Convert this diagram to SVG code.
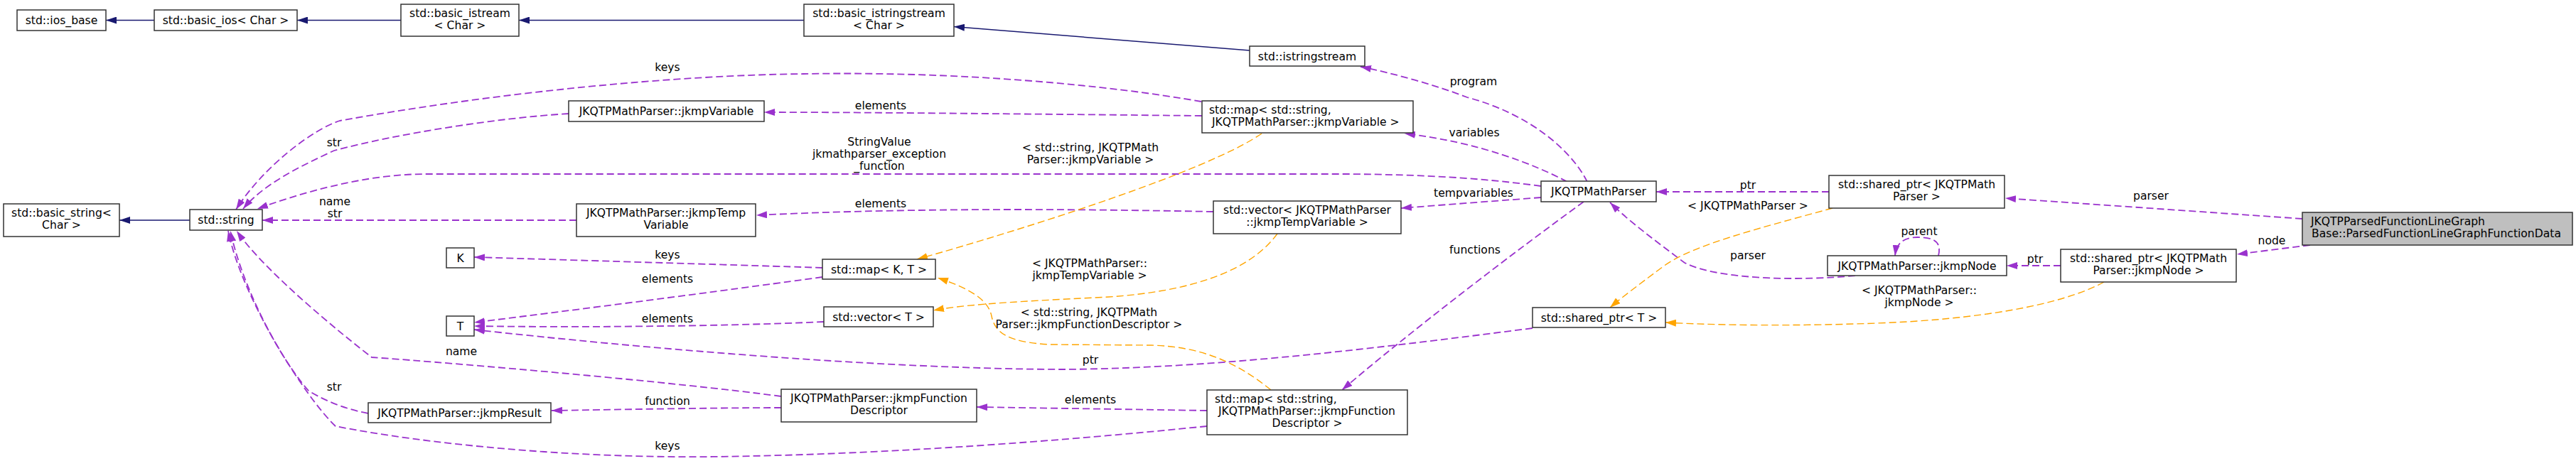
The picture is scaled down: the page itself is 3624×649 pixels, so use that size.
<svg xmlns="http://www.w3.org/2000/svg" width="3624" height="649" viewBox="0 0 3624 649">
<style>
text{font-family:"DejaVu Sans","Liberation Sans",sans-serif;font-size:15.6px;fill:#000}
.c{text-anchor:middle}
.s{text-anchor:start}
.box{fill:#fff;stroke:#333;stroke-width:1.5}
.main{fill:#bfbfbf;stroke:#333;stroke-width:1.5}
.inh{fill:none;stroke:#191970;stroke-width:1.5;marker-end:url(#mb)}
.use{fill:none;stroke:#9a32cd;stroke-width:1.8;stroke-dasharray:10,5;marker-end:url(#mp)}
.tpl{fill:none;stroke:#ffa500;stroke-width:1.4;stroke-dasharray:10,5;marker-end:url(#mo)}
</style>
<defs>
<marker id="mb" markerUnits="userSpaceOnUse" viewBox="0 0 15 10" refX="15" refY="5" markerWidth="15" markerHeight="10" orient="auto"><path d="M0,0L15,5L0,10z" fill="#191970"/></marker>
<marker id="mp" markerUnits="userSpaceOnUse" viewBox="0 0 15 10" refX="15" refY="5" markerWidth="15" markerHeight="10" orient="auto"><path d="M0,0L15,5L0,10z" fill="#9a32cd"/></marker>
<marker id="mo" markerUnits="userSpaceOnUse" viewBox="0 0 15 10" refX="15" refY="5" markerWidth="15" markerHeight="10" orient="auto"><path d="M0,0L15,5L0,10z" fill="#ffa500"/></marker>
</defs>
<rect width="3624" height="649" fill="#fff"/>
<g id="edges">
<path class="inh" d="M217,28.5L149,28.5"/>
<path class="inh" d="M564,28.5L418,28.5"/>
<path class="inh" d="M1131,28.5L730,28.5"/>
<path class="inh" d="M1758,71L1342,37.5"/>
<path class="inh" d="M267,310L168,310"/>

<path class="use" d="M1690,143C1560,120 1350,100 1130,104C950,106 700,130 478,170C440,182 370,235 332,295"/>
<text class="c" x="939" y="99.5">keys</text>
<path class="use" d="M800,160C700,166 560,188 470,212C420,235 370,260 342,294"/>
<text class="c" x="470" y="205.5">str</text>
<path class="use" d="M2168,262C2080,250 2000,246 1900,245L600,245C530,245 450,262 362,294"/>
<text class="c" x="1237" y="205">StringValue</text>
<text class="c" x="1237" y="222">jkmathparser_exception</text>
<text class="c" x="1237" y="239">_function</text>
<path class="use" d="M811,310L369,310"/>
<text class="c" x="471" y="288.5">name</text>
<text class="c" x="471" y="305.5">str</text>
<path class="use" d="M1099,558C950,538 650,512 523,503C480,470 370,380 333,325"/>
<text class="c" x="649" y="499.5">name</text>
<path class="use" d="M518,582C480,575 450,560 434,550C390,500 340,400 324,325"/>
<text class="c" x="470" y="549.5">str</text>
<path class="use" d="M1698,600C1500,620 1250,640 1000,643C800,645 600,625 472,600C430,560 340,420 321,325"/>
<text class="c" x="939" y="632.5">keys</text>
<path class="use" d="M1099,574C1000,574 850,577 776,578"/>
<text class="c" x="939" y="569.5">function</text>
<path class="use" d="M1698,578L1374,573"/>
<text class="c" x="1534" y="567.5">elements</text>
<path class="use" d="M1691,163C1400,160 1200,158 1075,158"/>
<text class="c" x="1239" y="153.5">elements</text>
<path class="use" d="M1707,298C1450,293 1250,294 1064,303"/>
<text class="c" x="1239" y="291.5">elements</text>
<path class="use" d="M1157,377C1100,375 900,369 667,362"/>
<text class="c" x="939" y="363.5">keys</text>
<path class="use" d="M1157,390C1100,398 900,425 667,454"/>
<text class="c" x="939" y="397.5">elements</text>
<path class="use" d="M1159,453C1000,460 800,461 667,459"/>
<text class="c" x="939" y="453.5">elements</text>
<path class="use" d="M2156,462C1900,495 1700,518 1500,520C1250,520 900,490 667,464"/>
<text class="c" x="1534" y="511.5">ptr</text>
<path class="use" d="M2233,256C2210,210 2150,160 2064,137C2020,120 1960,103 1914,94"/>
<text class="c" x="2073" y="119.5">program</text>
<path class="use" d="M2205,256C2160,232 2080,200 1976,188"/>
<text class="c" x="2074" y="191.5">variables</text>
<path class="use" d="M2168,278L1971,293"/>
<text class="c" x="2073" y="276.5">tempvariables</text>
<path class="use" d="M2228,284C2130,355 1980,470 1888,549"/>
<text class="c" x="2075" y="356.5">functions</text>
<path class="use" d="M2573,270L2330,270"/>
<text class="c" x="2459" y="265.5">ptr</text>
<path class="use" d="M2610,388C2540,395 2420,395 2370,370C2330,340 2290,310 2265,285"/>
<text class="c" x="2459" y="364.5">parser</text>
<path class="use" d="M2727,360C2732,340 2720,334 2698,334C2678,334 2668,342 2666,360"/>
<text class="c" x="2700" y="331">parent</text>
<path class="use" d="M2899,374L2823,374"/>
<text class="c" x="2863" y="369.5">ptr</text>
<path class="use" d="M3239,308L2821,279"/>
<text class="c" x="3026" y="280.5">parser</text>
<path class="use" d="M3250,345L3147,358"/>
<text class="c" x="3196" y="343.5">node</text>

<path class="tpl" d="M1775,188C1700,240 1450,320 1290,365"/>
<text class="c" x="1534" y="212.5">&lt; std::string, JKQTPMath</text>
<text class="c" x="1534" y="229.5">Parser::jkmpVariable &gt;</text>
<path class="tpl" d="M1797,329C1760,380 1680,410 1560,418C1440,424 1360,428 1313,437"/>
<text class="c" x="1533" y="375.5">&lt; JKQTPMathParser::</text>
<text class="c" x="1533" y="392.5">jkmpTempVariable &gt;</text>
<path class="tpl" d="M1788,549C1740,510 1690,488 1620,486L1478,485C1420,482 1400,470 1395,445C1390,420 1360,405 1319,391"/>
<text class="c" x="1532" y="444.5">&lt; std::string, JKQTPMath</text>
<text class="c" x="1532" y="461.5">Parser::jkmpFunctionDescriptor &gt;</text>
<path class="tpl" d="M2578,293C2480,320 2380,345 2340,375C2300,405 2280,420 2265,433"/>
<text class="c" x="2459" y="294.5">&lt; JKQTPMathParser &gt;</text>
<path class="tpl" d="M2960,397C2900,430 2780,450 2640,455C2500,460 2400,457 2343,454"/>
<text class="c" x="2700" y="413.5">&lt; JKQTPMathParser::</text>
<text class="c" x="2700" y="430.5">jkmpNode &gt;</text>
</g>

<g id="n_ios_base"><rect class="box" x="24" y="14" width="125" height="29"/><text class="c" x="86.5" y="33.5">std::ios_base</text></g>
<g id="n_basic_ios"><rect class="box" x="217" y="14" width="201" height="29"/><text class="c" x="317.5" y="33.5">std::basic_ios&lt; Char &gt;</text></g>
<g id="n_basic_istream"><rect class="box" x="564" y="6" width="166" height="45"/><text class="c" x="647" y="24">std::basic_istream</text><text class="c" x="647" y="41">&lt; Char &gt;</text></g>
<g id="n_basic_istringstream"><rect class="box" x="1131" y="6" width="211" height="45"/><text class="c" x="1236.5" y="24">std::basic_istringstream</text><text class="c" x="1236.5" y="41">&lt; Char &gt;</text></g>
<g id="n_istringstream"><rect class="box" x="1758" y="65" width="162" height="28"/><text class="c" x="1839" y="84.5">std::istringstream</text></g>
<g id="n_basic_string"><rect class="box" x="5" y="287" width="163" height="46"/><text class="c" x="86.5" y="305">std::basic_string&lt;</text><text class="c" x="86.5" y="322">Char &gt;</text></g>
<g id="n_string"><rect class="box" x="267" y="295" width="102" height="29"/><text class="c" x="318" y="314.5">std::string</text></g>
<g id="n_jkmpVariable"><rect class="box" x="800" y="142" width="275" height="29"/><text class="c" x="937.5" y="161.5">JKQTPMathParser::jkmpVariable</text></g>
<g id="n_jkmpTempVariable"><rect class="box" x="811" y="287" width="252" height="46"/><text class="c" x="937" y="305">JKQTPMathParser::jkmpTemp</text><text class="c" x="937" y="322">Variable</text></g>
<g id="n_K"><rect class="box" x="628" y="349" width="39" height="28"/><text class="c" x="647.5" y="368.5">K</text></g>
<g id="n_T"><rect class="box" x="628" y="445" width="39" height="28"/><text class="c" x="647.5" y="464.5">T</text></g>
<g id="n_jkmpResult"><rect class="box" x="518" y="567" width="257" height="28"/><text class="c" x="646.5" y="586.5">JKQTPMathParser::jkmpResult</text></g>
<g id="n_map_var"><rect class="box" x="1691" y="142" width="297" height="45"/><text class="s" x="1701" y="160">std::map&lt; std::string,</text><text class="s" x="1705" y="177">JKQTPMathParser::jkmpVariable &gt;</text></g>
<g id="n_vector_temp"><rect class="box" x="1707" y="283" width="264" height="46"/><text class="c" x="1839" y="301">std::vector&lt; JKQTPMathParser</text><text class="c" x="1839" y="318">::jkmpTempVariable &gt;</text></g>
<g id="n_map_KT"><rect class="box" x="1157" y="365" width="159" height="28"/><text class="c" x="1236.5" y="384.5">std::map&lt; K, T &gt;</text></g>
<g id="n_vector_T"><rect class="box" x="1159" y="432" width="154" height="28"/><text class="c" x="1236" y="451.5">std::vector&lt; T &gt;</text></g>
<g id="n_jkmpFunctionDescriptor"><rect class="box" x="1099" y="548" width="275" height="46"/><text class="c" x="1236.5" y="566">JKQTPMathParser::jkmpFunction</text><text class="c" x="1236.5" y="583">Descriptor</text></g>
<g id="n_map_fd"><rect class="box" x="1698" y="549" width="282" height="63"/><text class="s" x="1709" y="567">std::map&lt; std::string,</text><text class="s" x="1714" y="584">JKQTPMathParser::jkmpFunction</text><text class="c" x="1839" y="601">Descriptor &gt;</text></g>
<g id="n_JKQTPMathParser"><rect class="box" x="2168" y="255" width="162" height="29"/><text class="c" x="2249" y="275">JKQTPMathParser</text></g>
<g id="n_shared_parser"><rect class="box" x="2573" y="247" width="247" height="46"/><text class="c" x="2696.5" y="265">std::shared_ptr&lt; JKQTPMath</text><text class="c" x="2696.5" y="282">Parser &gt;</text></g>
<g id="n_jkmpNode"><rect class="box" x="2571" y="360" width="252" height="28"/><text class="c" x="2697" y="379.5">JKQTPMathParser::jkmpNode</text></g>
<g id="n_shared_node"><rect class="box" x="2899" y="351" width="247" height="46"/><text class="c" x="3022.5" y="369">std::shared_ptr&lt; JKQTPMath</text><text class="c" x="3022.5" y="386">Parser::jkmpNode &gt;</text></g>
<g id="n_shared_T"><rect class="box" x="2156" y="433" width="187" height="28"/><text class="c" x="2249.5" y="452.5">std::shared_ptr&lt; T &gt;</text></g>
<g id="n_main"><rect class="main" x="3239" y="299" width="380" height="46"/><text class="s" x="3251" y="317">JKQTPParsedFunctionLineGraph</text><text class="s" x="3252" y="334">Base::ParsedFunctionLineGraphFunctionData</text></g>
</svg>
